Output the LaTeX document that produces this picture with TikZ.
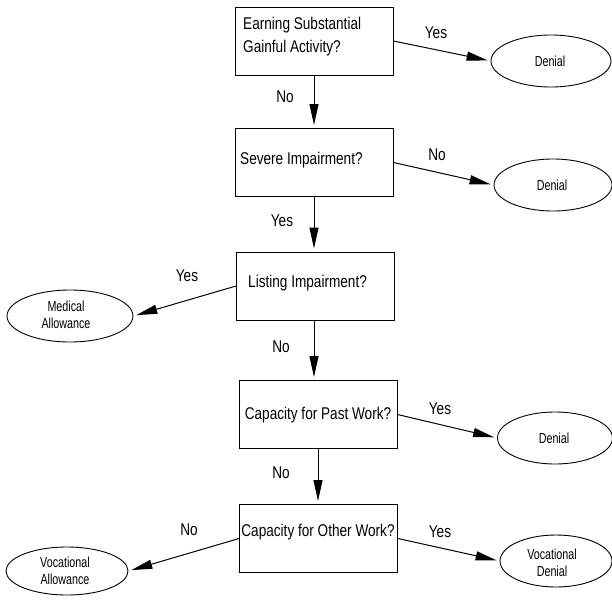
\documentclass[tikz,border=0pt]{standalone}
\usepackage{fontspec}
\usepackage{tikz}
\usetikzlibrary{arrows.meta, shapes.geometric}
\newfontfamily\boxfont{Liberation Sans}[FakeStretch=0.8]
\newfontfamily\ovalfont{Liberation Sans}[FakeStretch=0.74]
\tikzset{
  question/.style={draw, line width=0.9pt, minimum width=158pt, minimum height=68pt, inner sep=0pt},
  outcome/.style={draw, ellipse, line width=0.9pt, minimum width=120pt, minimum height=52pt, inner sep=0pt},
  qtext/.style={inner sep=0pt, font=\boxfont\fontsize{17}{23}\selectfont, align=left},
  otext/.style={inner sep=0pt, font=\ovalfont\fontsize{14.5}{17}\selectfont, align=center},
  answer/.style={inner sep=0pt, font=\boxfont\fontsize{17}{20}\selectfont},
  flow/.style={-{Triangle[length=21pt, width=9pt]}, line width=1pt, shorten >=3pt},
}

\begin{document}
\begin{tikzpicture}[x=1pt, y=-1pt]
        \useasboundingbox (0,0) rectangle (612,599);

        % Question boxes
        \node[question] (earn) at (314,41) {};
        \node[qtext, anchor=west] (earn-t) at (243,37) {Earning Substantial\\Gainful Activity?};

        \node[question] (severe) at (314,162.5) {};
        \node[qtext, anchor=west] (severe-t) at (240,160) {Severe Impairment?};

        \node[question] (listing) at (315.5,286) {};
        \node[qtext, anchor=west] (listing-t) at (248,283) {Listing Impairment?};

        \node[question] (pastwork) at (318,414.5) {};
        \node[qtext] (pastwork-t) at (318,415) {Capacity for Past Work?};

        \node[question] (otherwork) at (318.5,538.5) {};
        \node[qtext] (otherwork-t) at (318,532) {Capacity for Other Work?};

        % Outcomes
        \node[outcome] (deny1) at (551,61) {};
        \node[otext] (deny1-t) at (550,61) {Denial};

        \node[outcome, minimum width=118pt] (deny2) at (553,185) {};
        \node[otext] (deny2-t) at (552,185) {Denial};

        \node[outcome, minimum width=126pt] (medallow) at (70,316) {};
        \node[otext] (medallow-t) at (66,315) {Medical\\Allowance};

        \node[outcome, minimum width=115pt] (deny3) at (555,438) {};
        \node[otext] (deny3-t) at (554,438) {Denial};

        \node[outcome, minimum width=112pt] (vocdeny) at (556,561) {};
        \node[otext] (vocdeny-t) at (552,563) {Vocational\\Denial};

        \node[outcome, minimum width=122pt, minimum height=48pt] (vocallow) at (67,571) {};
        \node[otext] (vocallow-t) at (65,571) {Vocational\\Allowance};

        % Arrows
        \draw[flow] (earn.east) -- (deny1.west);
        \draw[flow] (earn.south) -- (earn.south |- severe.north);
        \draw[flow] (severe.east) -- (deny2.west);
        \draw[flow] (severe.south) -- (severe.south |- listing.north);
        \draw[flow] (listing.west) -- (medallow.east);
        \draw[flow] (severe.south |- listing.south) -- (severe.south |- pastwork.north);
        \draw[flow] (pastwork.east) -- (deny3.west);
        \draw[flow] (pastwork.south) -- (pastwork.south |- otherwork.north);
        \draw[flow] (otherwork.east) -- (vocdeny.west);
        \draw[flow] (otherwork.west) -- (vocallow.east);

        % Answers
        \node[answer] (a1) at (436,33) {Yes};
        \node[answer] (a2) at (285,97) {No};
        \node[answer] (a3) at (437,155) {No};
        \node[answer] (a4) at (282,221) {Yes};
        \node[answer] (a5) at (187,276) {Yes};
        \node[answer] (a6) at (281,347) {No};
        \node[answer] (a7) at (440,409) {Yes};
        \node[answer] (a8) at (281,473) {No};
        \node[answer] (a9) at (440,532) {Yes};
        \node[answer] (a10) at (189,530) {No};
    \end{tikzpicture}
\end{document}
